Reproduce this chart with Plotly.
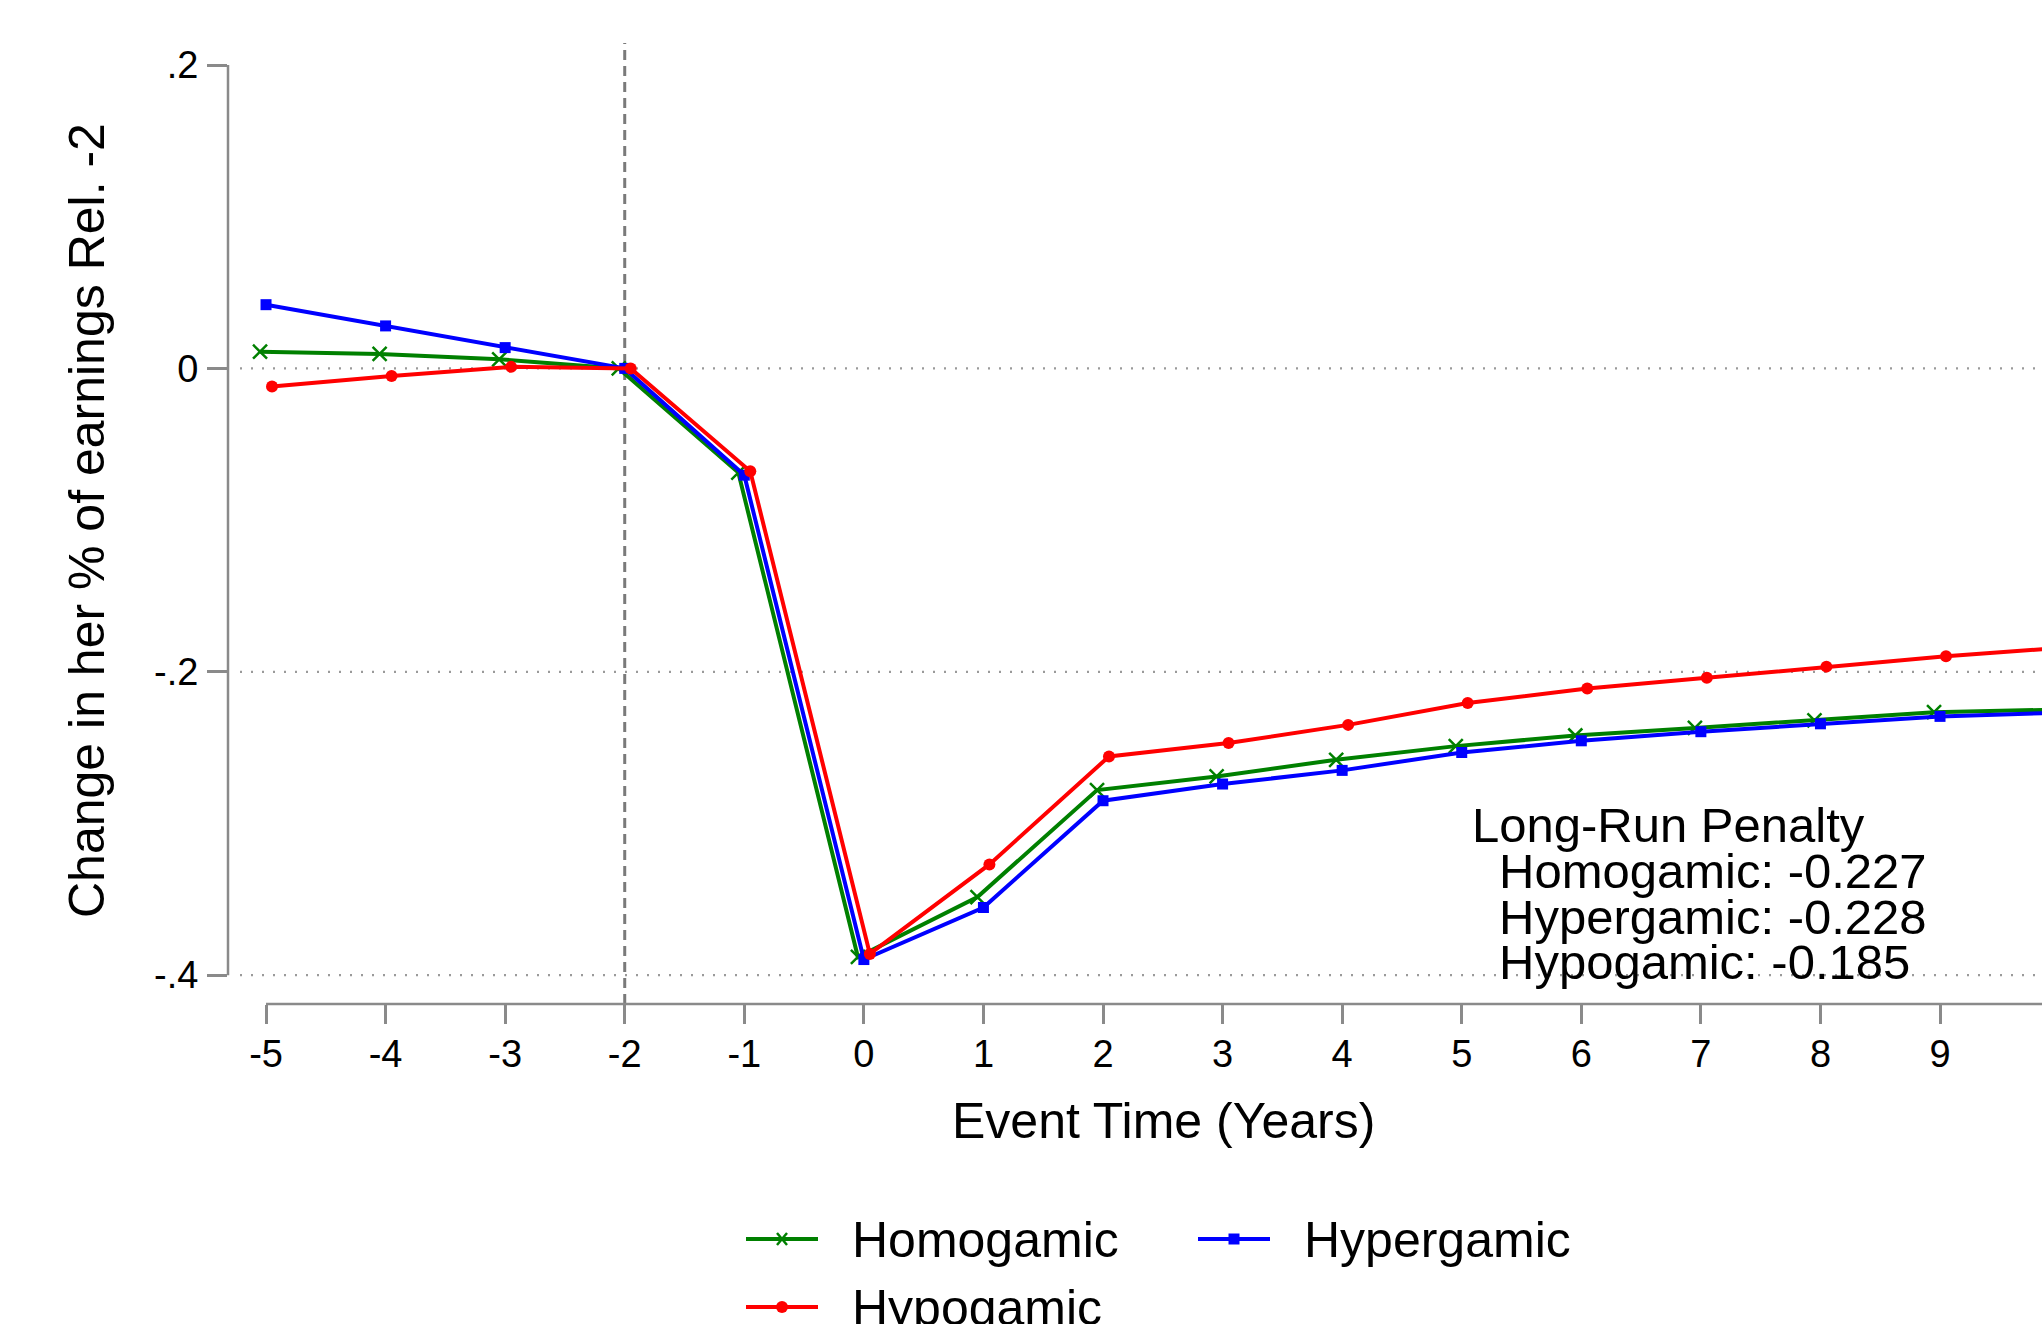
import plotly.graph_objects as go

# ---------------- data ----------------
event_time = list(range(-5, 11))
homogamic = [0.011, 0.0095, 0.006, 0.0, -0.0687, -0.388, -0.3485, -0.278, -0.269, -0.258,
             -0.249, -0.242, -0.237, -0.232, -0.2266, -0.225]
hypergamic = [0.042, 0.028, 0.0137, 0.0, -0.0704, -0.3897, -0.3554, -0.285, -0.274, -0.265,
              -0.2532, -0.2455, -0.2395, -0.2343, -0.2294, -0.227]
hypogamic = [-0.012, -0.005, 0.001, 0.0, -0.0678, -0.386, -0.327, -0.2558, -0.247, -0.235,
             -0.2206, -0.211, -0.204, -0.1966, -0.1898, -0.184]

series_names = ["Homogamic", "Hypergamic", "Hypogamic"]
penalties = [-0.227, -0.228, -0.185]

x_ticks = list(range(-5, 11))
y_ticks = [0.2, 0.0, -0.2, -0.4]
y_tick_labels = [".2", "0", "-.2", "-.4"]
grid_vals = [0.0, -0.2, -0.4]
ref_period = -2

# ---------------- layout geometry ----------------
W, H = 2042, 1324
ML, MR, MT, MB = 228, 0, 43, 320
PW, PH = W - ML - MR, H - MT - MB
XR = [-5.318, 9.853]
YR = [-0.419, 0.2145]

FONT = "Liberation Sans, Arial, Helvetica, sans-serif"
AXC = "#8a8a8a"

def px(xp):
    return (xp - ML) / PW

def py(yp):
    return (MT + PH - yp) / PH

offsets = [-0.05, 0.0, 0.05]
colors = ["#008000", "#0000ff", "#ff0000"]
symbols = ["x-thin", "square", "circle"]
msizes = [14, 11, 12]
data = [homogamic, hypergamic, hypogamic]

fig = go.Figure()
for name, vals, off, col, sym, ms in zip(series_names, data, offsets, colors, symbols, msizes):
    fig.add_trace(go.Scatter(
        x=[t + off for t in event_time], y=vals, name=name, mode="lines+markers",
        line=dict(color=col, width=4),
        marker=dict(symbol=sym, size=ms, color=col,
                    line=dict(color=col, width=2.5 if sym == "x-thin" else 0)),
        showlegend=False, cliponaxis=True,
    ))

shapes = []
# dotted grid lines
for g in grid_vals:
    shapes.append(dict(type="line", xref="paper", yref="y", x0=px(240), x1=1, y0=g, y1=g,
                       line=dict(color="#9a9a9a", width=2.2, dash="2px,9px"), layer="below"))
# reference period dashed line
shapes.append(dict(type="line", xref="x", yref="paper", x0=ref_period, x1=ref_period, y0=0, y1=1,
                   line=dict(color="#7a7a7a", width=3, dash="10px,6px"), layer="below"))
# axis lines (Stata-style: span tick range)
shapes.append(dict(type="line", xref="paper", yref="y", x0=0, x1=0, y0=y_ticks[-1], y1=y_ticks[0],
                   line=dict(color=AXC, width=2.5)))
shapes.append(dict(type="line", xref="x", yref="paper", x0=x_ticks[0], x1=XR[1], y0=0, y1=0,
                   line=dict(color=AXC, width=2.5)))

annotations = []
# axis titles
annotations.append(dict(text="Event Time (Years)", xref="paper", yref="paper", x=px(1163), y=py(1121),
                        xanchor="center", yanchor="middle", showarrow=False,
                        font=dict(size=50, color="black", family=FONT)))
annotations.append(dict(text="Change in her % of earnings Rel. -2", xref="paper", yref="paper",
                        x=px(87), y=py(521), textangle=-90, xanchor="center", yanchor="middle",
                        showarrow=False, font=dict(size=50, color="black", family=FONT)))
# long-run penalty text
annotations.append(dict(text="Long-Run Penalty", xref="paper", yref="paper", x=px(1470), y=py(825),
                        xanchor="left", yanchor="middle", showarrow=False,
                        font=dict(size=49, color="black", family=FONT)))
for i, (nm, pv) in enumerate(zip(series_names, penalties)):
    annotations.append(dict(text=f"{nm}: {pv:.3f}", xref="paper", yref="paper",
                            x=px(1497), y=py(871 + 45.5 * i), xanchor="left", yanchor="middle",
                            showarrow=False, font=dict(size=49, color="black", family=FONT)))

# manual legend (Stata-like long keys), two columns
leg_pos = [(746, 1239), (1198, 1239), (746, 1307)]
for (lx, ly), nm, col, sym in zip(leg_pos, series_names, colors, symbols):
    shapes.append(dict(type="line", xref="paper", yref="paper", x0=px(lx), x1=px(lx + 72),
                       y0=py(ly), y1=py(ly), line=dict(color=col, width=4)))
    cx = px(lx + 36)
    cy = py(ly)
    if sym == "square":
        shapes.append(dict(type="rect", xref="paper", yref="paper", xsizemode="pixel", ysizemode="pixel",
                           xanchor=cx, yanchor=cy, x0=-5.5, x1=5.5, y0=-5.5, y1=5.5,
                           fillcolor=col, line=dict(width=0)))
    elif sym == "circle":
        shapes.append(dict(type="circle", xref="paper", yref="paper", xsizemode="pixel", ysizemode="pixel",
                           xanchor=cx, yanchor=cy, x0=-6, x1=6, y0=-6, y1=6,
                           fillcolor=col, line=dict(width=0)))
    else:
        for s in (1, -1):
            shapes.append(dict(type="line", xref="paper", yref="paper", xsizemode="pixel", ysizemode="pixel",
                               xanchor=cx, yanchor=cy, x0=-5, x1=5, y0=-6 * s, y1=6 * s,
                               line=dict(color=col, width=2.5)))
    annotations.append(dict(text=nm, xref="paper", yref="paper", x=px(lx + 104), y=py(ly + 1),
                            xanchor="left", yanchor="middle", showarrow=False,
                            font=dict(size=50, color="black", family=FONT)))

fig.update_layout(
    width=W, height=H,
    margin=dict(l=ML, r=MR, t=MT, b=MB, autoexpand=False),
    paper_bgcolor="white", plot_bgcolor="white",
    font=dict(family=FONT, color="black"),
    shapes=shapes, annotations=annotations,
    xaxis=dict(range=XR, tickmode="array", tickvals=x_ticks, ticktext=[str(v) for v in x_ticks],
               ticks="outside", ticklen=19, tickwidth=2.5, tickcolor=AXC, showline=False,
               showgrid=False, zeroline=False, tickfont=dict(size=38, color="black"),
               ticklabelstandoff=-3),
    yaxis=dict(range=YR, tickmode="array", tickvals=y_ticks, ticktext=y_tick_labels,
               ticks="outside", ticklen=20, tickwidth=2.5, tickcolor=AXC, showline=False,
               showgrid=False, zeroline=False, tickfont=dict(size=38, color="black"),
               ticklabelstandoff=1),
    showlegend=False,
)

fig.write_html("out.html", config={"displayModeBar": False},
               post_script="document.body.style.margin='0';document.body.style.overflow='hidden';")
